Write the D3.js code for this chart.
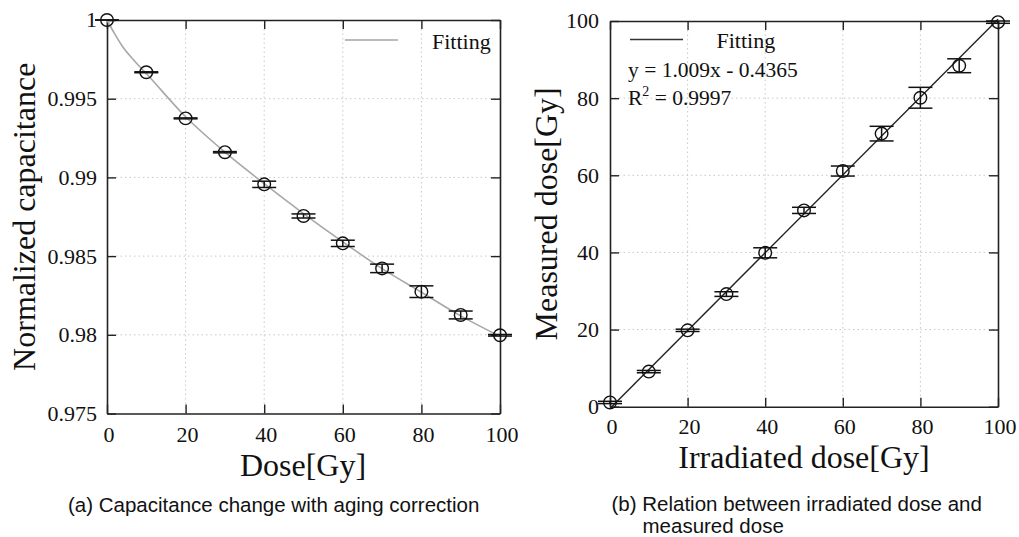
<meta charset="utf-8">
<script src="https://cdn.jsdelivr.net/npm/d3@7"></script>
<style>
body { margin:0; background:white; overflow:hidden; }
text { fill:#111; }
.serif { font-family:"Liberation Serif","Times New Roman",serif; }
.sans { font-family:"Liberation Sans",Arial,sans-serif; }
</style>
<body>
<div id="root"></div>
<script>
// (a) capacitance vs dose
var doseA = [0, 10, 20, 30, 40, 50, 60, 70, 80, 90, 100];
var capA = [1.0, 0.99668, 0.99375, 0.9916, 0.98956, 0.98755, 0.98581, 0.98422, 0.98274, 0.98126, 0.97997];
var capErrA = [0, 0.00003, 0.00003, 0.00004, 0.0002, 0.00013, 0.0002, 0.00027, 0.00037, 0.00025, 0.00005];
var fitDoseA = [0, 2, 4, 7, 10, 20, 30, 40, 50, 60, 70, 80, 90, 100];
var fitCapA = [1.0, 0.9991, 0.9983, 0.9974, 0.9966, 0.99385, 0.9916, 0.9896, 0.9877, 0.9859, 0.9842, 0.9827, 0.9812, 0.9799];
var xTicksA = [0, 20, 40, 60, 80, 100];
var yTicksA = [0.975, 0.98, 0.985, 0.99, 0.995, 1];
var yTickLabelsA = ["0.975", "0.98", "0.985", "0.99", "0.995", "1"];

// (b) measured vs irradiated dose
var doseB = [0, 10, 20, 30, 40, 50, 60, 70, 80, 90, 100];
var measB = [1.1, 9.1, 19.8, 29.2, 39.9, 50.9, 61.1, 70.8, 80.1, 88.4, 99.7];
var measErrB = [0.3, 0.3, 0.3, 0.6, 1.3, 0.8, 1.3, 1.9, 2.7, 1.8, 0.3];
var fitSlopeB = 1.009, fitInterceptB = -0.4365;
var xTicksB = [0, 20, 40, 60, 80, 100];
var yTicksB = [0, 20, 40, 60, 80, 100];

var W = 1019, H = 537;
var svg = d3.select('#root').append('svg').attr('width', W).attr('height', H);

function panel(o) {
	var g = svg.append('g');
	var x = d3.scaleLinear().domain([0, 100]).range([o.left, o.right]);
	var y = d3.scaleLinear().domain(o.yDomain).range([o.bottom, o.top]);

	// dotted grid
	g.selectAll('.gx').data(o.xTicks.slice(1, -1)).enter().append('line')
		.attr('x1', d => x(d)).attr('x2', d => x(d))
		.attr('y1', o.top).attr('y2', o.bottom)
		.attr('stroke', '#c8c8c8').attr('stroke-width', 1).attr('stroke-dasharray', '1.5,3');
	g.selectAll('.gy').data(o.yTicks.slice(1, -1)).enter().append('line')
		.attr('x1', o.left).attr('x2', o.right)
		.attr('y1', d => y(d)).attr('y2', d => y(d))
		.attr('stroke', '#c8c8c8').attr('stroke-width', 1).attr('stroke-dasharray', '1.5,3');

	// axes with inward ticks on all sides
	var tl = 9;
	g.append('g').attr('transform', 'translate(0,' + o.bottom + ')')
		.call(d3.axisBottom(x).tickValues(o.xTicks).tickSizeInner(-tl).tickSizeOuter(0).tickFormat(''));
	g.append('g').attr('transform', 'translate(0,' + o.top + ')')
		.call(d3.axisTop(x).tickValues(o.xTicks).tickSizeInner(-tl).tickSizeOuter(0).tickFormat(''));
	g.append('g').attr('transform', 'translate(' + o.left + ',0)')
		.call(d3.axisLeft(y).tickValues(o.yTicks).tickSizeInner(-tl).tickSizeOuter(0).tickFormat(''));
	g.append('g').attr('transform', 'translate(' + o.right + ',0)')
		.call(d3.axisRight(y).tickValues(o.yTicks).tickSizeInner(-tl).tickSizeOuter(0).tickFormat(''));
	g.selectAll('.domain').attr('stroke', '#222').attr('stroke-width', 1.6);
	g.selectAll('.tick line').attr('stroke', '#222').attr('stroke-width', 1.4);

	// tick labels
	g.selectAll('.xl').data(o.xTicks).enter().append('text')
		.attr('class', 'serif').attr('font-size', 22)
		.attr('x', d => x(d) + 2).attr('y', o.bottom + o.xLabOff)
		.attr('text-anchor', 'middle').text(d => d);
	g.selectAll('.yl').data(o.yTicks).enter().append('text')
		.attr('class', 'serif').attr('font-size', 22)
		.attr('x', o.left - o.yLabOff).attr('y', d => y(d)).attr('dy', '0.34em')
		.attr('text-anchor', 'end').text((d, i) => o.yLabels[i]);

	// axis titles
	g.append('text').attr('class', 'serif').attr('font-size', 32)
		.attr('x', o.xTitleX).attr('y', o.xTitleY).attr('text-anchor', 'middle').text(o.xTitle);
	g.append('text').attr('class', 'serif').attr('font-size', 32)
		.attr('transform', 'translate(' + o.yTitleX + ',' + (o.top + o.bottom) / 2 + ') rotate(-90)')
		.attr('text-anchor', 'middle').text(o.yTitle);

	return { g: g, x: x, y: y };
}

function points(p, xs, ys, errs) {
	var cap = 12;
	var pts = xs.map((d, i) => ({ x: d, y: ys[i], e: errs[i] }));
	var eb = p.g.append('g').attr('stroke', '#111').attr('stroke-width', 1.5);
	pts.forEach(function(d) {
		eb.append('line').attr('x1', p.x(d.x)).attr('x2', p.x(d.x)).attr('y1', p.y(d.y - d.e)).attr('y2', p.y(d.y + d.e));
		eb.append('line').attr('x1', p.x(d.x) - cap).attr('x2', p.x(d.x) + cap).attr('y1', p.y(d.y - d.e)).attr('y2', p.y(d.y - d.e));
		eb.append('line').attr('x1', p.x(d.x) - cap).attr('x2', p.x(d.x) + cap).attr('y1', p.y(d.y + d.e)).attr('y2', p.y(d.y + d.e));
	});
	p.g.selectAll('.pt').data(pts).enter().append('circle')
		.attr('cx', d => p.x(d.x)).attr('cy', d => p.y(d.y)).attr('r', 6.3)
		.attr('fill', 'none').attr('stroke', '#111').attr('stroke-width', 1.4);
}

// ---- panel (a)
var pa = panel({
	left: 107, right: 500, top: 20, bottom: 413.5,
	yDomain: [0.975, 1], xTicks: xTicksA, yTicks: yTicksA, yLabels: yTickLabelsA,
	xLabOff: 28, yLabOff: 10,
	xTitle: 'Dose[Gy]', xTitleX: 303, xTitleY: 476,
	yTitle: 'Normalized capacitance', yTitleX: 35
});
var fitLineA = d3.line().x(d => pa.x(d[0])).y(d => pa.y(d[1])).curve(d3.curveMonotoneX);
pa.g.append('path').datum(fitDoseA.map((d, i) => [d, fitCapA[i]]))
	.attr('d', fitLineA).attr('fill', 'none').attr('stroke', '#a8a8a8').attr('stroke-width', 1.6);
points(pa, doseA, capA, capErrA);
pa.g.append('line').attr('x1', 345).attr('x2', 398).attr('y1', 40).attr('y2', 40)
	.attr('stroke', '#bbb').attr('stroke-width', 2);
pa.g.append('text').attr('class', 'serif').attr('font-size', 22).attr('x', 432).attr('y', 49).text('Fitting');
svg.append('text').attr('class', 'sans').attr('font-size', 20.5).attr('x', 68).attr('y', 511.5)
	.text('(a) Capacitance change with aging correction');

// ---- panel (b)
var pb = panel({
	left: 610, right: 998, top: 21, bottom: 406.7,
	yDomain: [0, 100], xTicks: xTicksB, yTicks: yTicksB, yLabels: yTicksB.map(String),
	xLabOff: 27.5, yLabOff: 11,
	xTitle: 'Irradiated dose[Gy]', xTitleX: 804, xTitleY: 468,
	yTitle: 'Measured dose[Gy]', yTitleX: 557
});
pb.g.append('line')
	.attr('x1', pb.x(0)).attr('y1', pb.y(fitInterceptB))
	.attr('x2', pb.x(100)).attr('y2', pb.y(fitSlopeB * 100 + fitInterceptB))
	.attr('stroke', '#222').attr('stroke-width', 1.4);
points(pb, doseB, measB, measErrB);
pb.g.append('line').attr('x1', 630).attr('x2', 683).attr('y1', 39.5).attr('y2', 39.5)
	.attr('stroke', '#333').attr('stroke-width', 1.4);
pb.g.append('text').attr('class', 'serif').attr('font-size', 22).attr('x', 716.5).attr('y', 48).text('Fitting');
pb.g.append('text').attr('class', 'serif').attr('font-size', 21.5).attr('x', 628).attr('y', 77).text('y = 1.009x - 0.4365');
var r2 = pb.g.append('text').attr('class', 'serif').attr('font-size', 21.5).attr('x', 628).attr('y', 105);
r2.append('tspan').text('R');
r2.append('tspan').attr('font-size', 14).attr('dy', -9).text('2');
r2.append('tspan').attr('dy', 9).text(' = 0.9997');
svg.append('text').attr('class', 'sans').attr('font-size', 20.5).attr('x', 611.5).attr('y', 510.5)
	.text('(b) Relation between irradiated dose and');
svg.append('text').attr('class', 'sans').attr('font-size', 20.5).attr('x', 642.5).attr('y', 532.5)
	.text('measured dose');
</script>
</body>
